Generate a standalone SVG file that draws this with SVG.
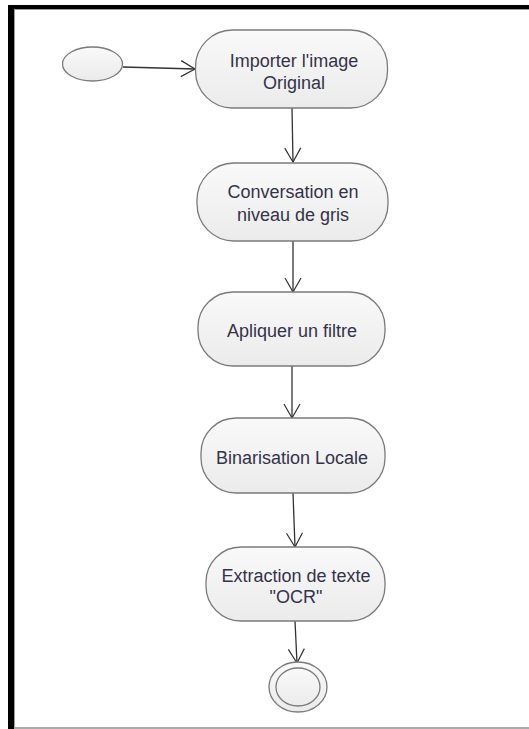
<svg xmlns="http://www.w3.org/2000/svg" width="529" height="729" viewBox="0 0 529 729">
<defs>
<linearGradient id="g" x1="0" y1="0" x2="0" y2="1">
<stop offset="0" stop-color="#f9f9f9"/>
<stop offset="1" stop-color="#ebebeb"/>
</linearGradient>
<marker id="arr" markerWidth="18" markerHeight="20" refX="15" refY="9" orient="auto" markerUnits="userSpaceOnUse">
<path d="M1,1 L15,9 L1,17" fill="none" stroke="#333" stroke-width="1.2"/>
</marker>
<style>
.n{fill:url(#g);stroke:#7b7b7b;stroke-width:1.3}
.t{font-family:"Liberation Sans",Arial,sans-serif;font-size:18px;fill:#33334a;text-anchor:middle}
.c{fill:none;stroke:#333;stroke-width:1.3;marker-end:url(#arr)}
</style>
</defs>
<rect x="0" y="0" width="529" height="729" fill="#fff"/>
<g id="frame">
<rect x="8" y="5" width="521" height="4" fill="#000"/>
<rect x="8" y="5" width="6" height="724" fill="#000"/>
<rect x="14" y="9" width="515" height="1" fill="#9a9a9a"/>
<rect x="14" y="9" width="1" height="720" fill="#9a9a9a"/>
<rect x="14" y="727" width="515" height="2" fill="#aaa"/>
</g>
<g id="connectors">
<line class="c" x1="123" y1="67" x2="195" y2="69"/>
<line class="c" x1="292" y1="108" x2="293" y2="162"/>
<line class="c" x1="293" y1="241" x2="293" y2="292"/>
<line class="c" x1="292" y1="366" x2="292" y2="418"/>
<line class="c" x1="293" y1="493" x2="295" y2="547"/>
<line class="c" x1="295" y1="621" x2="297" y2="663"/>
</g>
<g id="start">
<ellipse class="n" cx="92.5" cy="64" rx="30" ry="17"/>
</g>
<g id="n1">
<rect class="n" x="195.5" y="30" width="192" height="78" rx="37" ry="37"/>
<text class="t" x="294" y="67">Importer l'image</text>
<text class="t" x="294" y="89">Original</text>
</g>
<g id="n2">
<rect class="n" x="197" y="163" width="191" height="78" rx="37" ry="37"/>
<text class="t" x="293" y="198">Conversation en</text>
<text class="t" x="293" y="221">niveau de gris</text>
</g>
<g id="n3">
<rect class="n" x="198" y="292" width="187" height="74" rx="35" ry="35"/>
<text class="t" x="292" y="337">Apliquer un filtre</text>
</g>
<g id="n4">
<rect class="n" x="201" y="418" width="184" height="75" rx="35" ry="35"/>
<text class="t" x="292" y="464">Binarisation Locale</text>
</g>
<g id="n5">
<rect class="n" x="206" y="547" width="179" height="74" rx="35" ry="35"/>
<text class="t" x="296" y="582">Extraction de texte</text>
<text class="t" x="296" y="603">"OCR"</text>
</g>
<g id="end">
<ellipse class="n" cx="298" cy="687" rx="29" ry="25" fill="#fff"/>
<ellipse class="n" cx="298" cy="687" rx="22" ry="19"/>
</g>
</svg>
